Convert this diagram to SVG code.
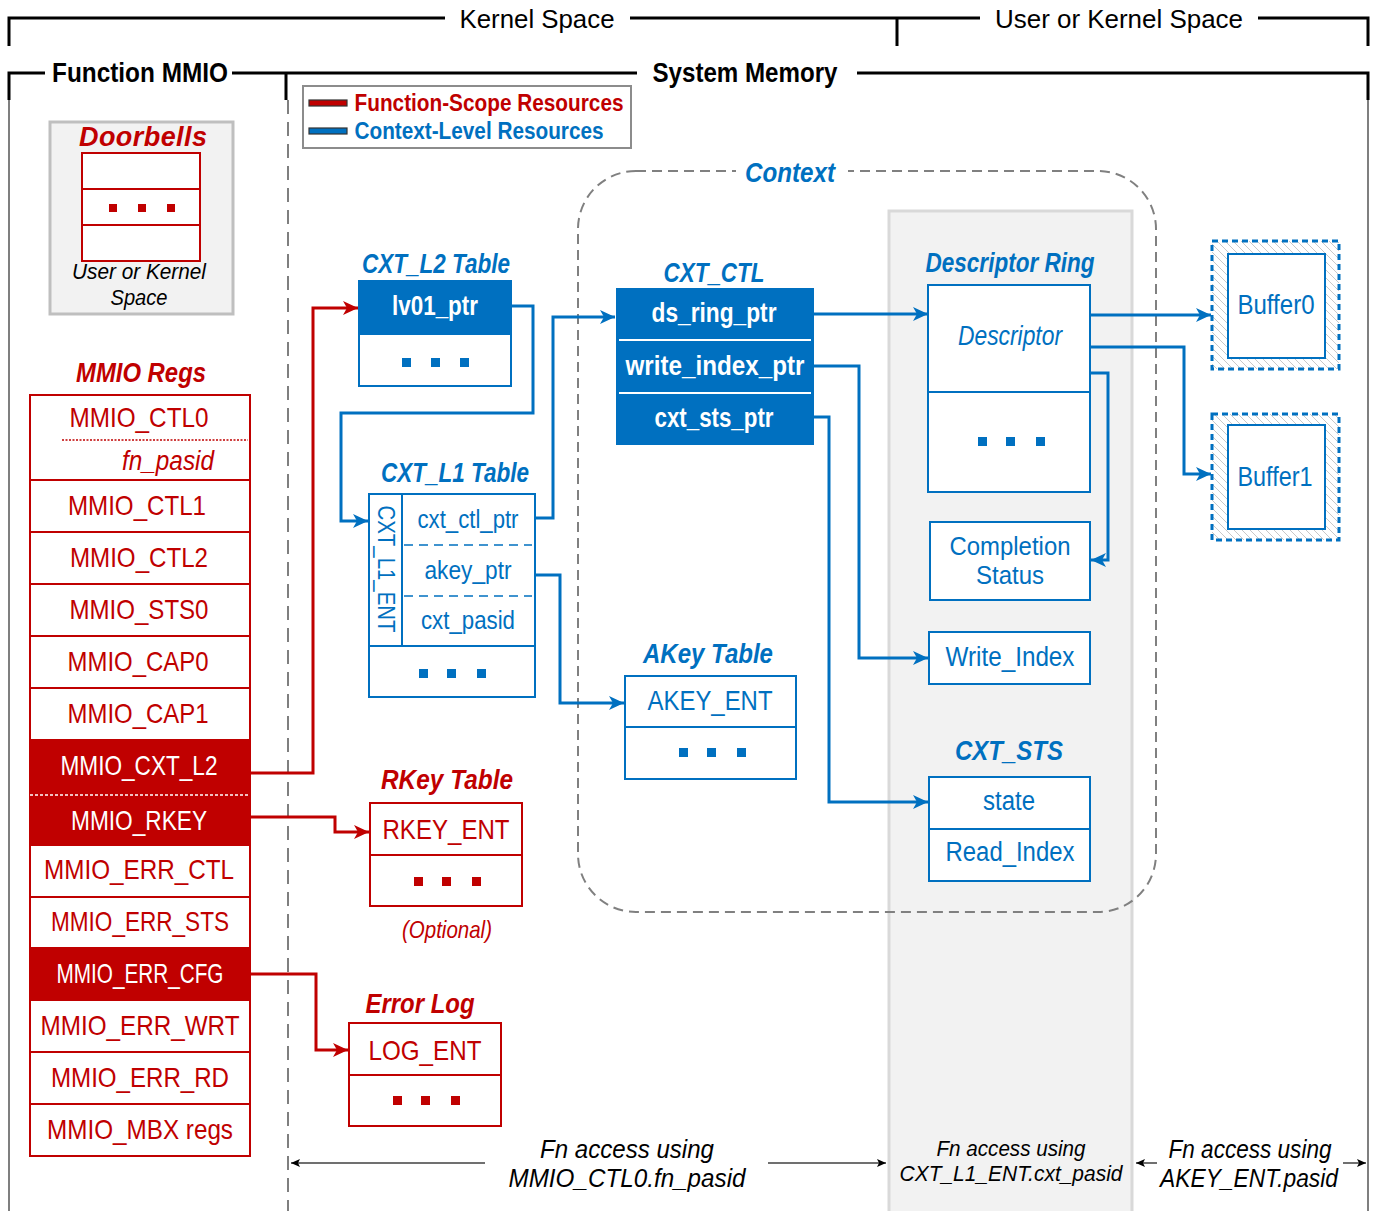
<svg xmlns="http://www.w3.org/2000/svg" width="1377" height="1211" viewBox="0 0 1377 1211">
  <style>
    text { font-family: "Liberation Sans", Arial, sans-serif; text-anchor: middle; }
    .r { fill: #C00000; }
    .b { fill: #0070C0; }
    .w { fill: #FFFFFF; }
    .k { fill: #000000; }
    .bi { font-weight: bold; font-style: italic; }
    .bd { font-weight: bold; }
    .it { font-style: italic; }
    .rb { fill: #FFFFFF; stroke: #C00000; stroke-width: 2; }
    .bb { fill: #FFFFFF; stroke: #0070C0; stroke-width: 2; }
    .bar { fill: none; stroke: #000; stroke-width: 3; }
    .edge { fill: none; stroke: #7F7F7F; stroke-width: 2; }
    .cr { fill: none; stroke: #C00000; stroke-width: 3; marker-end: url(#ar); }
    .cb { fill: none; stroke: #0070C0; stroke-width: 3; marker-end: url(#ab); }
    .ck { fill: none; stroke: #404040; stroke-width: 1.5; marker-end: url(#ak); }
    .dr { fill: #C00000; }
    .db { fill: #0070C0; }
  </style>
  <defs>
    <marker id="ar" markerUnits="userSpaceOnUse" markerWidth="16" markerHeight="14" refX="15" refY="7" orient="auto">
      <path d="M0,0 L15,7 L0,14 L4,7 z" fill="#C00000"/>
    </marker>
    <marker id="ab" markerUnits="userSpaceOnUse" markerWidth="16" markerHeight="14" refX="15" refY="7" orient="auto">
      <path d="M0,0 L15,7 L0,14 L4,7 z" fill="#0070C0"/>
    </marker>
    <marker id="ak" markerUnits="userSpaceOnUse" markerWidth="10" markerHeight="10" refX="9" refY="5" orient="auto">
      <path d="M0,1 L9,5 L0,9 L2,5 z" fill="#000"/>
    </marker>
    <pattern id="hatch" patternUnits="userSpaceOnUse" width="8" height="8">
      <path d="M-2,-2 L10,10 M-2,6 L2,10 M6,-2 L10,2" stroke="#C8C8C8" stroke-width="1"/>
    </pattern>
  </defs>

  <rect width="1377" height="1211" fill="#FFFFFF"/>

  <!-- privilege brackets -->
  <g id="space-brackets">
    <path class="bar" d="M9,46 V18 H445 M630,18 H980 M897,46 V18 M1258,18 H1368 V46"/>
    <text x="537" y="28" font-size="26" class="k" textLength="155" lengthAdjust="spacingAndGlyphs">Kernel Space</text>
    <text x="1119" y="28" font-size="26" class="k" textLength="248" lengthAdjust="spacingAndGlyphs">User or Kernel Space</text>
  </g>

  <!-- region headers and boundaries -->
  <g id="regions">
    <path class="bar" d="M9,100 V73 H45 M232,73 H637 M286,73 V100 M857,73 H1368 V100"/>
    <path class="edge" d="M9,100 V1211 M1368,100 V1211"/>
    <path class="edge" d="M288,100 V1211" stroke-dasharray="14 8"/>
    <text x="140" y="82" font-size="27" class="k bd" textLength="176" lengthAdjust="spacingAndGlyphs">Function MMIO</text>
    <text x="745" y="82" font-size="27" class="k bd" textLength="185" lengthAdjust="spacingAndGlyphs">System Memory</text>
  </g>

  <!-- legend -->
  <g id="legend">
    <rect x="303" y="86" width="328" height="62" fill="#FFFFFF" stroke="#8C8C8C" stroke-width="2"/>
    <rect x="309" y="100" width="38" height="6" fill="#C00000" stroke="#333" stroke-width="1.2"/>
    <rect x="309" y="128" width="38" height="6" fill="#0070C0" stroke="#333" stroke-width="1.2"/>
    <text x="489" y="111" font-size="23" class="r bd" textLength="269" lengthAdjust="spacingAndGlyphs">Function-Scope Resources</text>
    <text x="479" y="139" font-size="23" class="b bd" textLength="249" lengthAdjust="spacingAndGlyphs">Context-Level Resources</text>
  </g>

  <!-- system memory panel (user or kernel space) -->
  <rect id="umem-panel" x="889" y="211" width="243" height="1002" fill="#F2F2F2" stroke="#D9D9D9" stroke-width="3"/>

  <!-- context outline -->
  <g id="context">
    <rect x="578" y="171" width="578" height="741" rx="58" fill="none" stroke="#808080" stroke-width="2" stroke-dasharray="10 6"/>
    <rect x="736" y="158" width="112" height="28" fill="#FFFFFF"/>
    <text x="790" y="182" font-size="27" class="b bi" textLength="90" lengthAdjust="spacingAndGlyphs">Context</text>
  </g>

  <!-- doorbells -->
  <g id="doorbells">
    <rect x="50" y="122" width="183" height="192" fill="#F2F2F2" stroke="#BFBFBF" stroke-width="3"/>
    <text x="143" y="146" font-size="27" class="r bi" textLength="128" lengthAdjust="spacing">Doorbells</text>
    <rect x="82" y="153" width="118" height="108" class="rb"/>
    <path d="M82,189 H200 M82,225 H200" stroke="#C00000" stroke-width="2"/>
    <rect x="109" y="204" width="8" height="8" class="dr"/>
    <rect x="138" y="204" width="8" height="8" class="dr"/>
    <rect x="167" y="204" width="8" height="8" class="dr"/>
    <text x="139" y="279" font-size="22" class="k it" textLength="134" lengthAdjust="spacingAndGlyphs">User or Kernel</text>
    <text x="139" y="305" font-size="22" class="k it" textLength="57" lengthAdjust="spacingAndGlyphs">Space</text>
  </g>

  <!-- MMIO register file -->
  <g id="mmio-regs">
    <text x="141" y="382" font-size="27" class="r bi" textLength="130" lengthAdjust="spacingAndGlyphs">MMIO Regs</text>
    <rect x="30" y="395" width="220" height="761" class="rb"/>
    <rect x="30" y="740" width="220" height="105" fill="#C00000"/>
    <rect x="30" y="948" width="220" height="52" fill="#C00000"/>
    <path d="M30,480 H250 M30,532 H250 M30,584 H250 M30,636 H250 M30,688 H250 M30,740 H250 M30,845 H250 M30,897 H250 M30,948 H250 M30,1000 H250 M30,1052 H250 M30,1104 H250" stroke="#C00000" stroke-width="2"/>
    <path d="M62,440 H248" stroke="#C00000" stroke-width="1.5" stroke-dasharray="2 1.5"/>
    <path d="M30,795 H250" stroke="#FFFFFF" stroke-width="1.5" stroke-dasharray="3 2"/>
    <text x="139" y="427" font-size="28" class="r" textLength="139" lengthAdjust="spacingAndGlyphs">MMIO_CTL0</text>
    <text x="168" y="470" font-size="27" class="r it" textLength="92" lengthAdjust="spacingAndGlyphs">fn_pasid</text>
    <text x="137" y="515" font-size="28" class="r" textLength="138" lengthAdjust="spacingAndGlyphs">MMIO_CTL1</text>
    <text x="139" y="567" font-size="28" class="r" textLength="138" lengthAdjust="spacingAndGlyphs">MMIO_CTL2</text>
    <text x="139" y="619" font-size="28" class="r" textLength="139" lengthAdjust="spacingAndGlyphs">MMIO_STS0</text>
    <text x="138" y="671" font-size="28" class="r" textLength="141" lengthAdjust="spacingAndGlyphs">MMIO_CAP0</text>
    <text x="138" y="723" font-size="28" class="r" textLength="141" lengthAdjust="spacingAndGlyphs">MMIO_CAP1</text>
    <text x="139" y="775" font-size="28" class="w" textLength="157" lengthAdjust="spacingAndGlyphs">MMIO_CXT_L2</text>
    <text x="139" y="830" font-size="28" class="w" textLength="136" lengthAdjust="spacingAndGlyphs">MMIO_RKEY</text>
    <text x="139" y="879" font-size="28" class="r" textLength="190" lengthAdjust="spacingAndGlyphs">MMIO_ERR_CTL</text>
    <text x="140" y="931" font-size="28" class="r" textLength="178" lengthAdjust="spacingAndGlyphs">MMIO_ERR_STS</text>
    <text x="140" y="983" font-size="28" class="w" textLength="167" lengthAdjust="spacingAndGlyphs">MMIO_ERR_CFG</text>
    <text x="140" y="1035" font-size="28" class="r" textLength="199" lengthAdjust="spacingAndGlyphs">MMIO_ERR_WRT</text>
    <text x="140" y="1087" font-size="28" class="r" textLength="178" lengthAdjust="spacingAndGlyphs">MMIO_ERR_RD</text>
    <text x="140" y="1139" font-size="28" class="r" textLength="186" lengthAdjust="spacingAndGlyphs">MMIO_MBX regs</text>
  </g>

  <!-- CXT_L2 table -->
  <g id="cxt-l2-table">
    <text x="436" y="273" font-size="27" class="b bi" textLength="148" lengthAdjust="spacingAndGlyphs">CXT_L2 Table</text>
    <rect x="359" y="281" width="152" height="105" class="bb"/>
    <rect x="359" y="281" width="152" height="54" fill="#0070C0"/>
    <text x="435" y="315" font-size="27" class="w bd" textLength="86" lengthAdjust="spacingAndGlyphs">lv01_ptr</text>
    <rect x="402" y="358" width="9" height="9" class="db"/>
    <rect x="431" y="358" width="9" height="9" class="db"/>
    <rect x="460" y="358" width="9" height="9" class="db"/>
  </g>

  <!-- CXT_L1 table -->
  <g id="cxt-l1-table">
    <text x="455" y="482" font-size="27" class="b bi" textLength="148" lengthAdjust="spacingAndGlyphs">CXT_L1 Table</text>
    <rect x="369" y="494" width="166" height="203" class="bb"/>
    <path d="M402,494 V646 M369,646 H535" stroke="#0070C0" stroke-width="2"/>
    <path d="M404,545 H532 M404,596 H532" stroke="#0070C0" stroke-width="1.5" stroke-dasharray="9 6"/>
    <text transform="translate(386,569) rotate(90)" x="0" y="8" font-size="24" class="b" textLength="127" lengthAdjust="spacingAndGlyphs">CXT_L1_ENT</text>
    <text x="468" y="528" font-size="26" class="b" textLength="101" lengthAdjust="spacingAndGlyphs">cxt_ctl_ptr</text>
    <text x="468" y="579" font-size="26" class="b" textLength="87" lengthAdjust="spacingAndGlyphs">akey_ptr</text>
    <text x="468" y="629" font-size="26" class="b" textLength="94" lengthAdjust="spacingAndGlyphs">cxt_pasid</text>
    <rect x="419" y="669" width="9" height="9" class="db"/>
    <rect x="447" y="669" width="9" height="9" class="db"/>
    <rect x="477" y="669" width="9" height="9" class="db"/>
  </g>

  <!-- CXT_CTL -->
  <g id="cxt-ctl">
    <text x="714" y="282" font-size="27" class="b bi" textLength="101" lengthAdjust="spacingAndGlyphs">CXT_CTL</text>
    <rect x="616" y="288" width="198" height="157" fill="#0070C0"/>
    <path d="M619,340 H811 M619,393 H811" stroke="#FFFFFF" stroke-width="2"/>
    <text x="714" y="322" font-size="27" class="w bd" textLength="125" lengthAdjust="spacingAndGlyphs">ds_ring_ptr</text>
    <text x="715" y="375" font-size="27" class="w bd" textLength="179" lengthAdjust="spacingAndGlyphs">write_index_ptr</text>
    <text x="714" y="427" font-size="27" class="w bd" textLength="119" lengthAdjust="spacingAndGlyphs">cxt_sts_ptr</text>
  </g>

  <!-- AKey table -->
  <g id="akey-table">
    <text x="708" y="663" font-size="27" class="b bi" textLength="130" lengthAdjust="spacingAndGlyphs">AKey Table</text>
    <rect x="625" y="676" width="171" height="103" class="bb"/>
    <path d="M625,727 H796" stroke="#0070C0" stroke-width="2"/>
    <text x="710" y="710" font-size="28" class="b" textLength="125" lengthAdjust="spacingAndGlyphs">AKEY_ENT</text>
    <rect x="679" y="748" width="9" height="9" class="db"/>
    <rect x="707" y="748" width="9" height="9" class="db"/>
    <rect x="737" y="748" width="9" height="9" class="db"/>
  </g>

  <!-- descriptor ring -->
  <g id="descriptor-ring">
    <text x="1010" y="272" font-size="27" class="b bi" textLength="169" lengthAdjust="spacingAndGlyphs">Descriptor Ring</text>
    <rect x="928" y="285" width="162" height="207" class="bb"/>
    <path d="M928,392 H1090" stroke="#0070C0" stroke-width="2"/>
    <text x="1010" y="345" font-size="27" class="b it" textLength="104" lengthAdjust="spacingAndGlyphs">Descriptor</text>
    <rect x="978" y="437" width="9" height="9" class="db"/>
    <rect x="1006" y="437" width="9" height="9" class="db"/>
    <rect x="1036" y="437" width="9" height="9" class="db"/>
  </g>

  <!-- completion status -->
  <g id="completion-status">
    <rect x="930" y="522" width="160" height="78" class="bb"/>
    <text x="1010" y="555" font-size="26" class="b" textLength="121" lengthAdjust="spacingAndGlyphs">Completion</text>
    <text x="1010" y="584" font-size="26" class="b" textLength="68" lengthAdjust="spacingAndGlyphs">Status</text>
  </g>

  <!-- write index -->
  <g id="write-index">
    <rect x="929" y="632" width="161" height="52" class="bb"/>
    <text x="1010" y="666" font-size="27" class="b" textLength="129" lengthAdjust="spacingAndGlyphs">Write_Index</text>
  </g>

  <!-- CXT_STS -->
  <g id="cxt-sts">
    <text x="1009" y="760" font-size="27" class="b bi" textLength="108" lengthAdjust="spacingAndGlyphs">CXT_STS</text>
    <rect x="929" y="777" width="161" height="104" class="bb"/>
    <path d="M929,829 H1090" stroke="#0070C0" stroke-width="2"/>
    <text x="1009" y="810" font-size="27" class="b" textLength="52" lengthAdjust="spacingAndGlyphs">state</text>
    <text x="1010" y="861" font-size="27" class="b" textLength="129" lengthAdjust="spacingAndGlyphs">Read_Index</text>
  </g>

  <!-- data buffers -->
  <g id="buffer0">
    <rect x="1212" y="241" width="127" height="128" fill="url(#hatch)" stroke="#0070C0" stroke-width="3" stroke-dasharray="6 4"/>
    <rect x="1228" y="254" width="97" height="104" class="bb"/>
    <text x="1276" y="314" font-size="27" class="b" textLength="77" lengthAdjust="spacingAndGlyphs">Buffer0</text>
  </g>
  <g id="buffer1">
    <rect x="1212" y="414" width="127" height="126" fill="url(#hatch)" stroke="#0070C0" stroke-width="3" stroke-dasharray="6 4"/>
    <rect x="1228" y="425" width="97" height="104" class="bb"/>
    <text x="1275" y="486" font-size="27" class="b" textLength="75" lengthAdjust="spacingAndGlyphs">Buffer1</text>
  </g>

  <!-- RKey table -->
  <g id="rkey-table">
    <text x="447" y="789" font-size="27" class="r bi" textLength="132" lengthAdjust="spacingAndGlyphs">RKey Table</text>
    <rect x="370" y="803" width="152" height="103" class="rb"/>
    <path d="M370,855 H522" stroke="#C00000" stroke-width="2"/>
    <text x="446" y="839" font-size="28" class="r" textLength="127" lengthAdjust="spacingAndGlyphs">RKEY_ENT</text>
    <rect x="414" y="877" width="9" height="9" class="dr"/>
    <rect x="442" y="877" width="9" height="9" class="dr"/>
    <rect x="472" y="877" width="9" height="9" class="dr"/>
    <text x="447" y="938" font-size="24" class="r it" textLength="90" lengthAdjust="spacingAndGlyphs">(Optional)</text>
  </g>

  <!-- error log -->
  <g id="error-log">
    <text x="420" y="1013" font-size="27" class="r bi" textLength="109" lengthAdjust="spacingAndGlyphs">Error Log</text>
    <rect x="349" y="1023" width="152" height="103" class="rb"/>
    <path d="M349,1075 H501" stroke="#C00000" stroke-width="2"/>
    <text x="425" y="1060" font-size="28" class="r" textLength="113" lengthAdjust="spacingAndGlyphs">LOG_ENT</text>
    <rect x="393" y="1096" width="9" height="9" class="dr"/>
    <rect x="421" y="1096" width="9" height="9" class="dr"/>
    <rect x="451" y="1096" width="9" height="9" class="dr"/>
  </g>

  <!-- pointer connectors -->
  <g id="connectors">
    <path class="cr" d="M250,773 H313 V308 H358"/>
    <path class="cr" d="M250,817 H335 V832 H369"/>
    <path class="cr" d="M250,974 H316 V1050 H348"/>
    <path class="cb" d="M511,306 H533 V413 H341 V521 H368"/>
    <path class="cb" d="M535,518 H553 V317 H615"/>
    <path class="cb" d="M535,575 H560 V703 H624"/>
    <path class="cb" d="M814,314 H928"/>
    <path class="cb" d="M814,366 H859 V658 H928"/>
    <path class="cb" d="M814,417 H829 V802 H928"/>
    <path class="cb" d="M1090,315 H1211"/>
    <path class="cb" d="M1090,347 H1184 V474 H1211"/>
    <path class="cb" d="M1090,373 H1108 V560 H1091"/>
  </g>

  <!-- PASID scope annotations -->
  <g id="pasid-scope">
    <path class="ck" d="M485,1163 H291"/>
    <path class="ck" d="M768,1163 H886"/>
    <path class="ck" d="M1157,1163 H1136"/>
    <path class="ck" d="M1343,1163 H1366"/>
    <text x="627" y="1158" font-size="25" class="k it" textLength="174" lengthAdjust="spacingAndGlyphs">Fn access using</text>
    <text x="627" y="1187" font-size="25" class="k it" textLength="237" lengthAdjust="spacingAndGlyphs">MMIO_CTL0.fn_pasid</text>
    <text x="1011" y="1156" font-size="22" class="k it" textLength="149" lengthAdjust="spacingAndGlyphs">Fn access using</text>
    <text x="1011" y="1181" font-size="22" class="k it" textLength="223" lengthAdjust="spacingAndGlyphs">CXT_L1_ENT.cxt_pasid</text>
    <text x="1250" y="1158" font-size="25" class="k it" textLength="163" lengthAdjust="spacingAndGlyphs">Fn access using</text>
    <text x="1249" y="1187" font-size="25" class="k it" textLength="178" lengthAdjust="spacingAndGlyphs">AKEY_ENT.pasid</text>
  </g>
</svg>
